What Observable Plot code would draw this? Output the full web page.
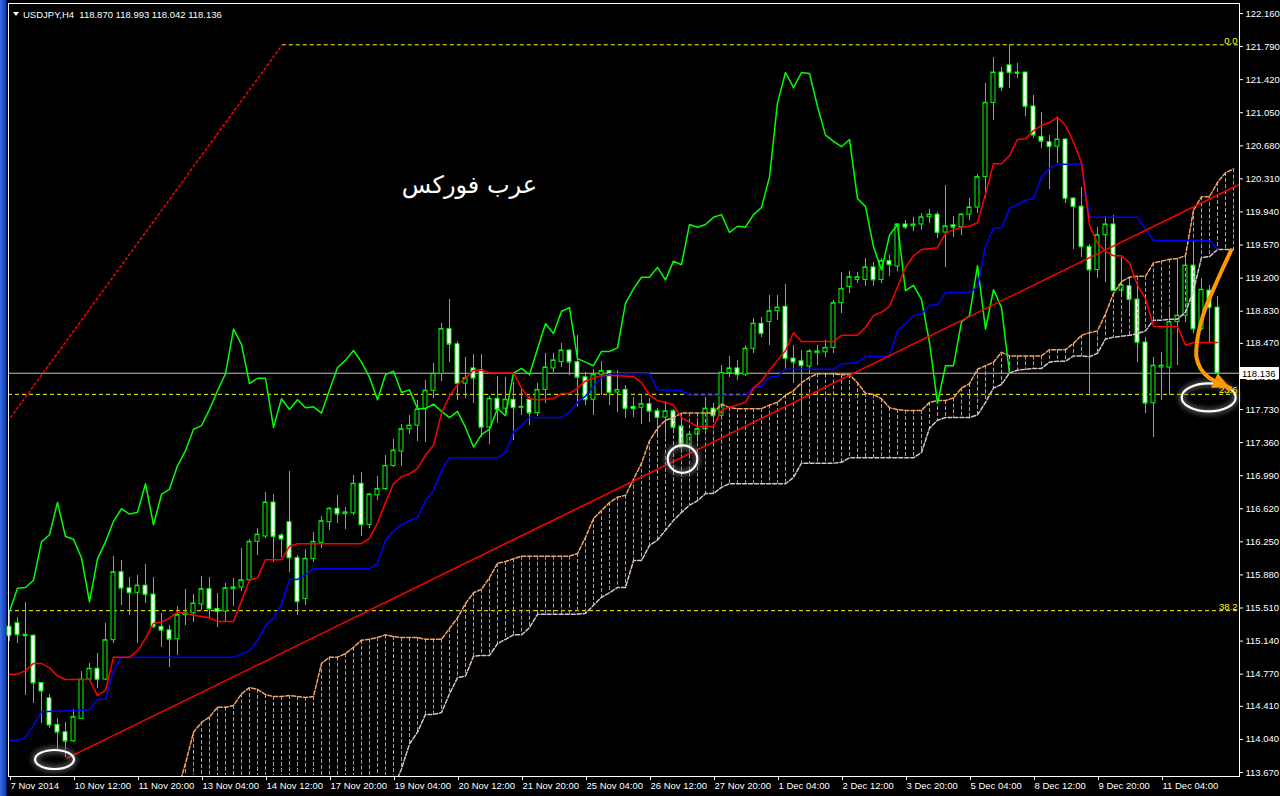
<!DOCTYPE html>
<html><head><meta charset="utf-8">
<script src="https://cdn.jsdelivr.net/npm/d3@7"></script>
<script src="https://cdn.jsdelivr.net/npm/@observablehq/plot@0.6"></script>
<style>
html,body{margin:0;padding:0;background:#000;}
#wrap{position:relative;width:1280px;height:796px;overflow:hidden;
 background:linear-gradient(to right,#3a6fe0 0px,#0b3cc0 6px,#000 7px);}
#wrap svg{display:block;}
</style>
</head><body><div id="wrap"></div>
<script>
// ---------- candle data (USDJPY H4), bar index 0..151 ----------
const opens = [115.30,115.34,115.21,115.20,114.67,114.50,114.20,114.12,114.02,114.27,114.71,114.83,114.71,115.15,115.91,115.73,115.68,115.76,115.66,115.30,115.26,115.16,115.43,115.45,115.55,115.72,115.50,115.47,115.72,115.74,
115.82,116.25,116.31,116.69,116.32,116.47,116.07,115.61,116.06,116.24,116.47,116.62,116.56,116.57,116.90,116.44,116.77,116.84,117.10,117.26,117.51,117.55,117.74,117.94,118.13,118.63,118.46,118.02,118.19,118.17,
117.53,117.85,117.74,117.84,117.75,117.84,117.69,117.95,118.19,118.26,118.39,118.26,118.09,117.84,118.12,118.16,117.92,117.95,117.76,117.75,117.79,117.71,117.64,117.71,117.54,117.31,117.45,117.51,117.74,117.66,
118.14,118.19,118.12,118.41,118.69,118.71,118.83,118.88,118.30,118.27,118.21,118.36,118.37,118.42,118.92,119.10,119.18,119.18,119.32,119.18,119.39,119.33,119.80,119.78,119.80,119.88,119.91,119.71,119.79,119.77,
119.91,119.99,120.33,121.16,121.50,121.58,121.50,121.50,121.12,120.78,120.72,120.67,120.75,120.09,120.00,119.55,119.29,119.68,119.80,119.06,119.11,118.96,118.48,117.80,118.20,118.20,118.71,118.78,119.34,118.63,
119.06,118.870];
const highs = [115.46,115.40,115.57,115.21,114.68,114.54,114.27,114.23,114.37,114.80,114.89,115.00,115.34,116.09,116.04,115.85,115.87,116.00,115.85,115.45,115.31,115.53,115.72,115.66,115.86,115.85,115.67,115.78,115.84,116.18,
116.28,116.40,116.80,116.78,116.34,117.04,116.10,116.16,116.35,116.53,116.63,116.77,116.63,116.99,117.03,116.79,116.98,117.22,117.39,117.56,117.66,117.83,118.05,118.24,118.69,118.96,118.49,118.31,118.35,118.35,
117.88,118.10,118.09,118.03,117.95,117.88,118.02,118.36,118.36,118.47,118.40,118.56,118.14,118.18,118.27,118.17,118.17,118.00,117.86,117.89,117.85,117.74,117.82,117.73,117.63,117.47,117.58,117.86,117.80,118.22,
118.32,118.28,118.45,118.75,118.76,119.01,119.01,119.13,118.45,118.39,118.40,118.45,118.50,118.95,119.26,119.27,119.26,119.42,119.37,119.42,119.45,119.81,119.84,119.88,119.92,119.97,119.93,120.24,119.89,119.92,
120.09,120.36,121.38,121.67,121.56,121.81,121.60,121.50,121.24,121.05,120.80,120.99,120.76,120.10,120.21,119.58,119.77,119.89,119.90,119.43,119.18,119.14,118.54,118.31,118.37,118.87,119.40,119.48,119.62,119.20,
119.12,118.993];
const lows = [115.13,115.11,114.53,114.44,114.22,114.16,113.92,113.84,114.01,114.26,114.70,114.61,114.70,115.11,115.54,115.43,115.11,115.56,115.28,115.07,114.84,114.98,115.31,115.35,115.48,115.39,115.29,115.36,115.53,115.69,
115.80,116.10,116.29,116.02,116.07,115.91,115.43,115.54,116.02,116.18,116.38,116.46,116.39,116.54,116.31,116.40,116.71,116.82,117.08,117.09,117.45,117.37,117.36,117.85,118.04,118.26,117.83,117.85,117.80,117.42,
117.34,117.57,117.65,117.38,117.66,117.55,117.65,117.80,118.14,118.20,118.11,117.76,117.78,117.66,117.89,117.78,117.70,117.63,117.64,117.56,117.58,117.42,117.42,117.47,117.24,117.19,117.36,117.50,117.62,117.64,
118.09,118.05,118.10,118.36,118.54,118.45,118.73,118.17,118.02,117.69,118.13,118.22,118.31,118.36,118.80,119.03,119.14,119.11,119.11,119.14,119.22,119.27,119.74,119.72,119.73,119.81,119.64,119.32,119.65,119.68,
119.84,119.92,120.09,120.96,121.29,121.32,121.43,121.01,120.76,120.65,120.19,120.48,120.03,119.52,119.43,117.91,119.20,119.15,119.05,118.98,118.79,118.26,117.69,117.42,117.83,117.89,118.22,118.70,118.58,118.61,
118.48,118.042];
const closes = [115.20,115.21,115.20,114.67,114.58,114.20,114.12,114.02,114.29,114.71,114.83,114.71,115.15,115.91,115.73,115.68,115.76,115.66,115.30,115.26,115.16,115.43,115.45,115.56,115.72,115.50,115.47,115.73,115.74,115.82,
116.25,116.33,116.69,116.31,116.28,116.07,115.58,116.06,116.25,116.48,116.62,116.56,116.58,116.90,116.44,116.78,116.84,117.10,117.27,117.51,117.55,117.73,117.94,118.13,118.63,118.46,118.02,118.08,118.08,117.53,
117.85,117.73,117.84,117.75,117.76,117.69,117.95,118.20,118.28,118.39,118.26,118.09,117.84,118.12,118.16,117.92,117.95,117.74,117.74,117.79,117.71,117.64,117.71,117.53,117.31,117.45,117.51,117.74,117.66,118.14,
118.19,118.12,118.41,118.69,118.58,118.83,118.87,118.30,118.26,118.22,118.38,118.38,118.42,118.92,119.08,119.21,119.21,119.32,119.18,119.39,119.35,119.80,119.77,119.80,119.88,119.91,119.71,119.78,119.77,119.91,
119.99,120.33,121.16,121.50,121.33,121.50,121.49,121.12,120.80,120.73,120.67,120.75,120.09,120.00,119.55,119.29,119.68,119.80,119.06,119.12,118.96,118.48,117.80,118.22,118.22,118.71,118.78,119.34,118.63,119.07,
118.87,118.136];

// ---------- Ichimoku ----------
const tenkanBar = [0,1,2,3,4,5,6,7,10,11,12,13,15,16,17,18,19,20,21,22,23,25,26,28,29,30,31,32,34,35,36,44,45,46,47,48,49,50,51,52,53,54,55,56,57,58,59,60,63,64,65,66,68,69,70,71,72,73,74,75,78,79,80,81,82,83,84,85,86,88,89,90,91,92,93,94,95,96,97,98,99,103,104,106,107,108,109,110,111,112,113,114,116,117,118,119,120,121,122,123,124,125,126,127,128,129,130,131,132,133,134,135,136,137,138,139,140,141,142,143,146,147,148,151];
const tenkanVal = [114.77,114.77,114.81,114.89,114.89,114.84,114.75,114.71,114.71,114.53,114.59,114.96,114.96,115.03,115.17,115.34,115.35,115.40,115.46,115.45,115.43,115.40,115.36,115.36,115.59,115.82,115.85,116.05,116.05,116.20,116.23,116.23,116.29,116.46,116.69,116.90,116.98,117.01,117.07,117.22,117.33,117.69,117.88,118.01,118.08,118.17,118.17,118.14,118.14,117.97,117.85,117.84,117.85,117.91,117.91,117.97,118.05,118.08,118.11,118.11,118.10,118.03,117.89,117.83,117.81,117.78,117.64,117.59,117.54,117.54,117.72,117.76,117.78,117.81,117.97,118.05,118.17,118.28,118.39,118.59,118.49,118.49,118.56,118.56,118.65,118.78,118.82,118.88,119.10,119.32,119.45,119.52,119.54,119.70,119.74,119.77,119.78,119.82,120.14,120.48,120.48,120.57,120.75,120.76,120.85,120.91,120.94,121.00,120.91,120.72,120.49,119.79,119.59,119.50,119.45,119.45,119.37,119.12,118.97,118.66,118.66,118.45,118.48,118.48];
const kijunBar = [0,1,2,3,4,10,11,12,13,14,28,30,31,32,33,34,35,36,37,38,45,46,47,48,49,50,51,52,53,54,55,61,62,63,64,65,69,70,71,72,73,74,75,80,81,84,85,92,93,94,95,96,97,103,104,106,107,110,111,112,113,114,115,116,117,120,121,122,123,124,125,127,128,129,130,131,134,135,141,143,150,151];
const kijunVal = [114.03,114.03,114.06,114.20,114.35,114.37,114.49,114.49,114.81,114.96,114.96,115.03,115.15,115.31,115.40,115.55,115.83,115.83,115.88,115.95,115.95,116.01,116.27,116.37,116.44,116.49,116.52,116.71,116.82,117.05,117.19,117.19,117.25,117.48,117.55,117.64,117.64,117.70,117.81,117.88,117.99,118.09,118.13,118.13,117.95,117.94,117.89,117.89,117.98,117.99,118.09,118.10,118.18,118.18,118.24,118.26,118.32,118.33,118.61,118.69,118.78,118.80,118.90,118.90,119.04,119.04,119.10,119.56,119.76,119.76,119.98,120.07,120.09,120.33,120.43,120.47,120.48,119.88,119.88,119.62,119.62,119.52];
// Chikou span: bars 0..125
const chikou = [115.47,115.73,115.74,115.82,116.25,116.33,116.69,116.31,116.28,116.07,115.58,116.06,116.25,116.48,116.62,116.56,116.58,116.90,116.44,116.78,116.84,117.10,117.27,117.51,117.55,117.73,117.94,118.13,118.63,118.46,
118.02,118.08,118.08,117.53,117.85,117.73,117.84,117.75,117.76,117.69,117.95,118.20,118.28,118.39,118.26,118.09,117.84,118.12,118.16,117.92,117.95,117.74,117.74,117.79,117.71,117.64,117.71,117.53,117.31,117.45,
117.51,117.74,117.66,118.14,118.19,118.12,118.41,118.69,118.58,118.83,118.87,118.30,118.26,118.22,118.38,118.38,118.42,118.92,119.08,119.21,119.21,119.32,119.18,119.39,119.35,119.80,119.77,119.80,119.88,119.91,
119.71,119.78,119.77,119.91,119.99,120.33,121.16,121.50,121.33,121.50,121.49,121.12,120.80,120.73,120.67,120.75,120.09,120.00,119.55,119.29,119.68,119.80,119.06,119.12,118.96,118.48,117.80,118.22,118.22,118.71,
118.78,119.34,118.63,119.07,118.87,118.136];
// Kumo: bars 21..153
const cloudStart = 21;
const spanA = [113.47,113.77,114.12,114.23,114.29,114.40,114.40,114.42,114.55,114.62,114.60,114.54,114.52,114.52,114.53,114.52,114.51,114.52,114.89,114.96,114.96,115.00,115.07,115.15,115.16,115.18,115.21,115.19,115.18,115.18,
115.18,115.16,115.16,115.16,115.28,115.40,115.56,115.68,115.72,115.85,116.01,116.03,116.06,116.09,116.09,116.09,116.09,116.09,116.09,116.09,116.12,116.30,116.51,116.60,116.69,116.75,
116.77,116.95,117.13,117.38,117.52,117.61,117.64,117.69,117.69,117.69,117.69,117.69,117.79,117.75,117.74,117.74,117.74,117.74,117.78,117.81,117.89,117.94,118.03,118.09,118.13,118.13,118.13,118.12,118.12,118.03,
117.91,117.90,117.85,117.75,117.73,117.72,117.72,117.72,117.81,117.83,117.83,117.86,117.97,118.02,118.18,118.22,118.26,118.37,118.33,118.33,
118.33,118.33,118.33,118.40,118.40,118.40,118.47,118.56,118.59,118.61,118.80,119.03,119.16,119.21,119.22,119.22,119.37,119.39,119.41,119.42,119.45,119.96,120.11,120.11,120.27,120.38,120.42];
const spanB = [113.45,113.45,113.45,113.45,113.45,113.45,113.45,113.45,113.45,113.45,113.45,113.45,113.45,113.45,113.45,113.45,113.45,113.45,113.45,113.45,113.45,113.45,113.45,113.45,113.45,113.45,113.45,113.50,
113.71,113.99,114.12,114.32,114.32,114.34,114.55,114.73,114.75,114.97,114.98,114.98,115.11,115.16,115.21,115.21,115.29,115.44,115.44,115.44,115.44,115.44,115.44,115.45,115.54,115.63,115.68,115.74,
115.74,116.04,116.04,116.21,116.27,116.38,116.49,116.58,116.66,116.71,
116.79,116.79,116.86,116.90,116.90,116.90,116.90,116.90,116.90,116.90,116.90,116.97,117.13,117.13,117.13,117.13,117.13,117.14,117.19,117.19,117.19,117.19,117.19,117.19,117.19,117.19,117.19,117.25,117.52,117.61,117.64,117.64,117.64,117.64,117.67,117.81,117.97,118.01,118.14,118.17,
118.18,118.19,118.19,118.26,118.27,118.27,118.33,118.33,118.32,118.36,118.52,118.54,118.55,118.56,118.58,118.61,118.73,118.73,118.74,118.74,118.82,119.06,119.43,119.44,119.52,119.52,119.52];

// ---------- objects drawn on the chart ----------
const fibLevels = [121.81, 117.90, 115.48];
const fibLabels = ["0.0", "23.6", "38.2"];
const fibStartBar = [34.1, -1, -1];
const fibLineBar = [-0.2, 34.1];
const fibLineVal = [117.60, 121.81];
const trendBar = [7.2, 154];
const trendVal = [113.83, 120.26];
const arrowBar = [152.7, 150.96, 149.25, 148.46, 148.38, 148.88, 149.88, 151.38, 152.6];
const arrowVal = [119.51, 119.17, 118.80, 118.50, 118.31, 118.19, 118.09, 118.02, 117.97];
const circleBar = [5.69, 84.19, 149.96];
const circleVal = [113.81, 117.17, 117.86];
const watermark = "عرب فوركس";
const watermarkBar = 57.5, watermarkVal = 120.24;

// ---------- axes ----------
const yTickLabels = ["122.160","121.790","121.420","121.050","120.680","120.310","119.940","119.570","119.200","118.830","118.470","118.100","117.730","117.360","116.990","116.620","116.250","115.880","115.510","115.140","114.770","114.410","114.040","113.670"];
const xTickBars = [0,8,16,24,32,40,48,56,64,72,80,88,96,104,112,120,128,136,144];
const xTickLabels = ["7 Nov 2014","10 Nov 12:00","11 Nov 20:00","13 Nov 04:00","14 Nov 12:00","17 Nov 20:00","19 Nov 04:00","20 Nov 12:00","21 Nov 20:00","25 Nov 04:00","26 Nov 12:00","27 Nov 20:00","1 Dec 04:00","2 Dec 12:00","3 Dec 20:00","5 Dec 04:00","8 Dec 12:00","9 Dec 20:00","11 Dec 04:00"];

// ---------- build ----------
const candles = opens.map((o, i) => ({i, o, h: highs[i], l: lows[i], c: closes[i]}));
const bull = candles.filter(d => d.c >= d.o), bear = candles.filter(d => d.c < d.o);
const tenkan = tenkanBar.map((b, i) => ({b, v: tenkanVal[i]}));
const kijun = kijunBar.map((b, i) => ({b, v: kijunVal[i]}));
const chik = chikou.map((v, b) => ({b, v}));
const cloud = spanA.map((a, j) => ({b: cloudStart + j, a, bb: spanB[j]}));
const fibs = fibLevels.map((v, i) => ({v, label: fibLabels[i], s: fibStartBar[i]}));
const arrowPts = arrowBar.map((b, i) => ({b, v: arrowVal[i]}));
const last = candles[candles.length - 1];
const xLab = new Map(xTickBars.map((b, i) => [b, xTickLabels[i]]));
const lime = "#00ff00", sandy = "#f4a460", hatchColor = "#e8914c", thistle = "#d8bfd8";
const FONT = "Liberation Sans, Arial, sans-serif";
const NS = "http://www.w3.org/2000/svg";
function el(tag, attrs, text) { const e = document.createElementNS(NS, tag); for (const k in attrs) e.setAttribute(k, attrs[k]); if (text != null) e.textContent = text; return e; }

// kumo hatching: one dashed vertical per bar between Senkou A and B, kept inside the frame
const kumoHatch = (index, scales, values, d) => {
  const g = el("g", {"stroke-width": 1, "stroke-dasharray": "4,2", fill: "none"});
  const top = d.marginTop, bottom = d.height - d.marginBottom, right = d.width - d.marginRight;
  cloud.forEach(c => {
    const x = Math.round(scales.x(c.b)) + 0.5;
    if (x > right) return;
    let y1 = scales.y(Math.max(c.a, c.bb)), y2 = scales.y(Math.min(c.a, c.bb));
    y1 = Math.max(top, y1); y2 = Math.min(bottom - 1, y2);
    if (y2 <= y1) return;
    g.appendChild(el("line", {x1: x, x2: x, y1: y1, y2: y2, stroke: c.a >= c.bb ? hatchColor : thistle}));
  });
  return g;
};
const ellipseMark = (index, scales) => {
  const g = el("g", {});
  const defs = el("defs", {});
  const f = el("filter", {id: "glow", x: "-50%", y: "-50%", width: "200%", height: "200%"});
  f.appendChild(el("feGaussianBlur", {stdDeviation: "2.5"}));
  defs.appendChild(f); g.appendChild(defs);
  const radii = [[19.5, 9.5], [14.8, 13.7], [27, 14]];
  circleBar.forEach((b, i) => {
    const cx = scales.x(b), cy = scales.y(circleVal[i]);
    g.appendChild(el("ellipse", {cx, cy, rx: radii[i][0], ry: radii[i][1], fill: "none", stroke: "#777", "stroke-width": 7, filter: "url(#glow)", opacity: 0.6}));
    g.appendChild(el("ellipse", {cx, cy, rx: radii[i][0], ry: radii[i][1], fill: "none", stroke: "#fff", "stroke-width": 2.2}));
  });
  return g;
};
const arrowHead = (index, scales) => {
  const n = arrowBar.length;
  const x1 = scales.x(arrowBar[n - 2]), y1 = scales.y(arrowVal[n - 2]);
  const x2 = scales.x(arrowBar[n - 1]), y2 = scales.y(arrowVal[n - 1]);
  const a = Math.atan2(y2 - y1, x2 - x1), L = 17, W = 8;
  const bx = x2 - L * Math.cos(a), by = y2 - L * Math.sin(a);
  const px = -Math.sin(a) * W, py = Math.cos(a) * W;
  return el("polygon", {points: `${x2},${y2} ${bx + px},${by + py} ${bx - px},${by - py}`, fill: "#ff9900"});
};
const priceBox = (index, scales, values, dims) => {
  const g = el("g", {});
  const y = Math.round(scales.y(last.c)), x0 = dims.width - dims.marginRight + 1;
  g.appendChild(el("rect", {x: x0, y: y - 6, width: 39, height: 12, fill: "#fff"}));
  g.appendChild(el("text", {x: x0 + 2, y: y + 3.5, fill: "#000", "font-size": 9.5, "font-family": FONT, "text-anchor": "start"}, last.c.toFixed(3)));
  return g;
};
const titleMark = () => {
  const g = el("g", {});
  g.appendChild(el("polygon", {points: "13,12 19,12 16,16", fill: "#fff"}));
  g.appendChild(el("text", {x: 23, y: 17.5, fill: "#fff", "font-size": 9.5, "font-family": FONT, "text-anchor": "start", "xml:space": "preserve"},
    `USDJPY,H4  ${last.o.toFixed(3)} ${last.h.toFixed(3)} ${last.l.toFixed(3)} ${last.c.toFixed(3)}`));
  return g;
};

const plot = Plot.plot({
  width: 1280, height: 796,
  marginLeft: 8, marginRight: 41, marginTop: 3, marginBottom: 20,
  style: {background: "transparent", color: "#fff", fontFamily: FONT, fontSize: "9.5px"},
  x: {type: "linear", domain: [0, 151], range: [9, 1217], axis: null},
  y: {type: "linear", domain: [113.67, 122.16], range: [772, 13], axis: null},
  marks: [
    (i, s, v, d) => el("rect", {x: d.marginLeft, y: d.marginTop, width: d.width - d.marginLeft - d.marginRight, height: d.height - d.marginTop - d.marginBottom, fill: "#000"}),
    // fib levels + bid line
    Plot.ruleY(fibs, {y: "v", x1: d => d.s, x2: 160, stroke: "#ffff00", strokeDasharray: "4,3", clip: true}),
    Plot.ruleY([last.c], {stroke: "#c0c0c0"}),
    // candles
    Plot.ruleX(candles, {x: "i", y1: "l", y2: "h", stroke: lime, shapeRendering: "crispEdges"}),
    Plot.rect(bull, {x1: d => d.i - 0.25, x2: d => d.i + 0.25, y1: "o", y2: "c", fill: "#000", stroke: lime}),
    Plot.rect(bear, {x1: d => d.i - 0.25, x2: d => d.i + 0.25, y1: "c", y2: "o", fill: "#fff", stroke: lime}),
    Plot.ruleY(candles, {y: "c", x1: d => d.i - 0.25, x2: d => d.i + 0.25, stroke: lime}),
    // kumo
    kumoHatch,
    Plot.line(cloud, {x: "b", y: "bb", stroke: thistle, strokeDasharray: "4,2", clip: true}),
    Plot.line(cloud, {x: "b", y: "a", stroke: sandy, strokeDasharray: "4,2", clip: true}),
    // lines
    Plot.line(chik, {x: "b", y: "v", stroke: lime, clip: true}),
    Plot.line(kijun, {x: "b", y: "v", stroke: "#0000ff", clip: true}),
    Plot.line(tenkan, {x: "b", y: "v", stroke: "#ff0000", clip: true}),
    // drawings
    Plot.line(fibLineBar.map((b, i) => ({b, v: fibLineVal[i]})), {x: "b", y: "v", stroke: "#ff0000", strokeDasharray: "2,3", clip: true}),
    Plot.line(trendBar.map((b, i) => ({b, v: trendVal[i]})), {x: "b", y: "v", stroke: "#ff0000", clip: true}),
    Plot.text([{b: watermarkBar, v: watermarkVal}], {x: "b", y: "v", text: () => watermark, fill: "#fff", fontSize: 24, fontFamily: "DejaVu Sans, Noto Sans, sans-serif"}),
    ellipseMark,
    Plot.text(fibs, {y: "v", text: "label", frameAnchor: "right", textAnchor: "end", lineAnchor: "bottom", dx: -2, dy: -1, fill: "#ffff00", fontSize: 9.5}),
    Plot.line(arrowPts, {x: "b", y: "v", curve: "catmull-rom", stroke: "#ff9900", strokeWidth: 4}),
    arrowHead,
    // frame & axes
    Plot.frame({stroke: "#fff"}),
    Plot.axisY(yTickLabels.map(Number), {anchor: "right", tickSize: 3, tickPadding: 3, tickFormat: d => d.toFixed(3), fill: "#fff", stroke: "#fff", fontSize: 9.5}),
    Plot.axisX(xTickBars, {anchor: "bottom", tickSize: 4, tickPadding: 2, textAnchor: "start", dx: 1, tickFormat: d => xLab.get(d), fill: "#fff", stroke: "#fff", fontSize: 9.5}),
    priceBox,
    titleMark
  ]
});
document.getElementById("wrap").appendChild(plot);
</script>
</body></html>
